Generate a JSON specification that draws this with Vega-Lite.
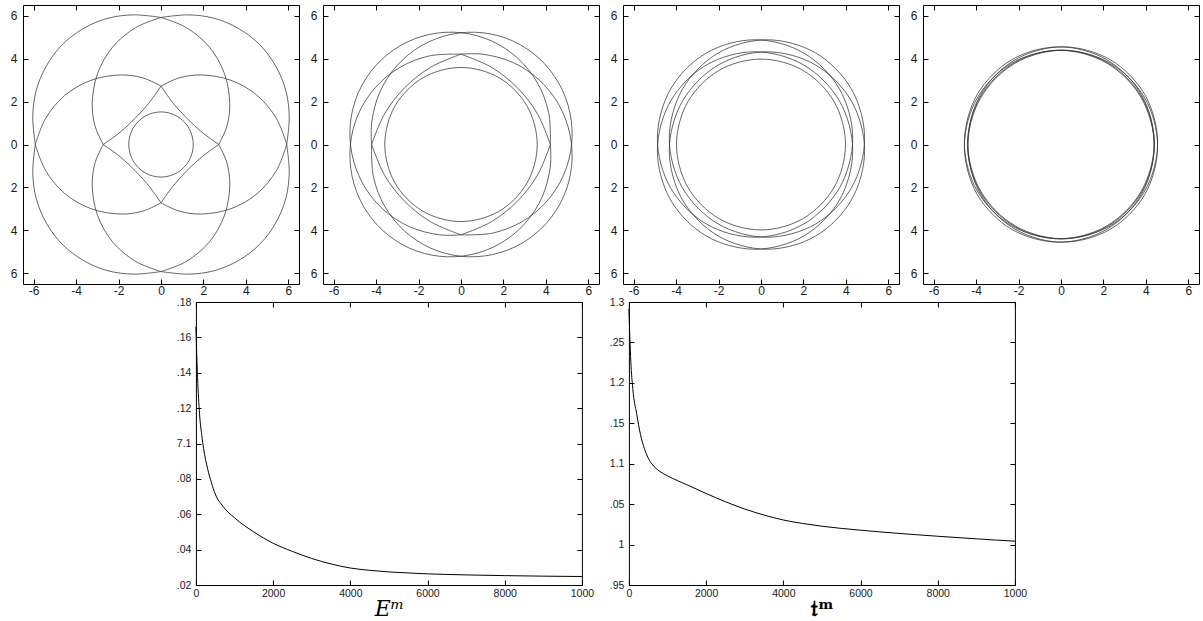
{
"$schema":"https://vega.github.io/schema/vega-lite/v6.json",
"padding":{"left":9,"top":4,"right":0,"bottom":0},
"background":"white",
"datasets":{
"arcs":[
{"p":1,"s":"A1","i":0,"x":0,"y":5.92},{"p":1,"s":"A1","i":1,"x":-1.28,"y":6.04},{"p":1,"s":"A1","i":2,"x":-2.51,"y":5.88},{"p":1,"s":"A1","i":3,"x":-3.66,"y":5.4},{"p":1,"s":"A1","i":4,"x":-4.65,"y":4.65},{"p":1,"s":"A1","i":5,"x":-5.4,"y":3.66},{"p":1,"s":"A1","i":6,"x":-5.88,"y":2.51},{"p":1,"s":"A1","i":7,"x":-6.04,"y":1.28},{"p":1,"s":"A1","i":8,"x":-5.92,"y":0},
{"p":1,"s":"C1","i":0,"x":-5.92,"y":0},{"p":1,"s":"C1","i":1,"x":-5.45,"y":-1.19},{"p":1,"s":"C1","i":2,"x":-4.54,"y":-2.28},{"p":1,"s":"C1","i":3,"x":-3.3,"y":-2.99},{"p":1,"s":"C1","i":4,"x":-1.9,"y":-3.24},{"p":1,"s":"C1","i":5,"x":-0.84,"y":-3.1},{"p":1,"s":"C1","i":6,"x":0,"y":-2.72},
{"p":1,"s":"D1","i":0,"x":0,"y":-2.72},{"p":1,"s":"D1","i":1,"x":0.57,"y":-1.93},{"p":1,"s":"D1","i":2,"x":1.22,"y":-1.22},{"p":1,"s":"D1","i":3,"x":1.93,"y":-0.57},{"p":1,"s":"D1","i":4,"x":2.72,"y":0},
{"p":1,"s":"B1","i":0,"x":2.72,"y":0},{"p":1,"s":"B1","i":1,"x":3.1,"y":0.84},{"p":1,"s":"B1","i":2,"x":3.24,"y":1.9},{"p":1,"s":"B1","i":3,"x":2.99,"y":3.3},{"p":1,"s":"B1","i":4,"x":2.28,"y":4.54},{"p":1,"s":"B1","i":5,"x":1.19,"y":5.45},{"p":1,"s":"B1","i":6,"x":0,"y":5.92},
{"p":1,"s":"A2","i":0,"x":5.92,"y":0},{"p":1,"s":"A2","i":1,"x":6.04,"y":1.28},{"p":1,"s":"A2","i":2,"x":5.88,"y":2.51},{"p":1,"s":"A2","i":3,"x":5.4,"y":3.66},{"p":1,"s":"A2","i":4,"x":4.65,"y":4.65},{"p":1,"s":"A2","i":5,"x":3.66,"y":5.4},{"p":1,"s":"A2","i":6,"x":2.51,"y":5.88},{"p":1,"s":"A2","i":7,"x":1.28,"y":6.04},{"p":1,"s":"A2","i":8,"x":0,"y":5.92},
{"p":1,"s":"C2","i":0,"x":0,"y":5.92},{"p":1,"s":"C2","i":1,"x":-1.19,"y":5.45},{"p":1,"s":"C2","i":2,"x":-2.28,"y":4.54},{"p":1,"s":"C2","i":3,"x":-2.99,"y":3.3},{"p":1,"s":"C2","i":4,"x":-3.24,"y":1.9},{"p":1,"s":"C2","i":5,"x":-3.1,"y":0.84},{"p":1,"s":"C2","i":6,"x":-2.72,"y":0},
{"p":1,"s":"D2","i":0,"x":-2.72,"y":0},{"p":1,"s":"D2","i":1,"x":-1.93,"y":-0.57},{"p":1,"s":"D2","i":2,"x":-1.22,"y":-1.22},{"p":1,"s":"D2","i":3,"x":-0.57,"y":-1.93},{"p":1,"s":"D2","i":4,"x":0,"y":-2.72},
{"p":1,"s":"B2","i":0,"x":0,"y":-2.72},{"p":1,"s":"B2","i":1,"x":0.84,"y":-3.1},{"p":1,"s":"B2","i":2,"x":1.9,"y":-3.24},{"p":1,"s":"B2","i":3,"x":3.3,"y":-2.99},{"p":1,"s":"B2","i":4,"x":4.54,"y":-2.28},{"p":1,"s":"B2","i":5,"x":5.45,"y":-1.19},{"p":1,"s":"B2","i":6,"x":5.92,"y":0},
{"p":1,"s":"A3","i":0,"x":0,"y":-5.92},{"p":1,"s":"A3","i":1,"x":1.28,"y":-6.04},{"p":1,"s":"A3","i":2,"x":2.51,"y":-5.88},{"p":1,"s":"A3","i":3,"x":3.66,"y":-5.4},{"p":1,"s":"A3","i":4,"x":4.65,"y":-4.65},{"p":1,"s":"A3","i":5,"x":5.4,"y":-3.66},{"p":1,"s":"A3","i":6,"x":5.88,"y":-2.51},{"p":1,"s":"A3","i":7,"x":6.04,"y":-1.28},{"p":1,"s":"A3","i":8,"x":5.92,"y":0},
{"p":1,"s":"C3","i":0,"x":5.92,"y":0},{"p":1,"s":"C3","i":1,"x":5.45,"y":1.19},{"p":1,"s":"C3","i":2,"x":4.54,"y":2.28},{"p":1,"s":"C3","i":3,"x":3.3,"y":2.99},{"p":1,"s":"C3","i":4,"x":1.9,"y":3.24},{"p":1,"s":"C3","i":5,"x":0.84,"y":3.1},{"p":1,"s":"C3","i":6,"x":0,"y":2.72},
{"p":1,"s":"D3","i":0,"x":0,"y":2.72},{"p":1,"s":"D3","i":1,"x":-0.57,"y":1.93},{"p":1,"s":"D3","i":2,"x":-1.22,"y":1.22},{"p":1,"s":"D3","i":3,"x":-1.93,"y":0.57},{"p":1,"s":"D3","i":4,"x":-2.72,"y":0},
{"p":1,"s":"B3","i":0,"x":-2.72,"y":0},{"p":1,"s":"B3","i":1,"x":-3.1,"y":-0.84},{"p":1,"s":"B3","i":2,"x":-3.24,"y":-1.9},{"p":1,"s":"B3","i":3,"x":-2.99,"y":-3.3},{"p":1,"s":"B3","i":4,"x":-2.28,"y":-4.54},{"p":1,"s":"B3","i":5,"x":-1.19,"y":-5.45},{"p":1,"s":"B3","i":6,"x":0,"y":-5.92},
{"p":1,"s":"A4","i":0,"x":-5.92,"y":0},{"p":1,"s":"A4","i":1,"x":-6.04,"y":-1.28},{"p":1,"s":"A4","i":2,"x":-5.88,"y":-2.51},{"p":1,"s":"A4","i":3,"x":-5.4,"y":-3.66},{"p":1,"s":"A4","i":4,"x":-4.65,"y":-4.65},{"p":1,"s":"A4","i":5,"x":-3.66,"y":-5.4},{"p":1,"s":"A4","i":6,"x":-2.51,"y":-5.88},{"p":1,"s":"A4","i":7,"x":-1.28,"y":-6.04},{"p":1,"s":"A4","i":8,"x":0,"y":-5.92},
{"p":1,"s":"C4","i":0,"x":0,"y":-5.92},{"p":1,"s":"C4","i":1,"x":1.19,"y":-5.45},{"p":1,"s":"C4","i":2,"x":2.28,"y":-4.54},{"p":1,"s":"C4","i":3,"x":2.99,"y":-3.3},{"p":1,"s":"C4","i":4,"x":3.24,"y":-1.9},{"p":1,"s":"C4","i":5,"x":3.1,"y":-0.84},{"p":1,"s":"C4","i":6,"x":2.72,"y":0},
{"p":1,"s":"D4","i":0,"x":2.72,"y":0},{"p":1,"s":"D4","i":1,"x":1.93,"y":0.57},{"p":1,"s":"D4","i":2,"x":1.22,"y":1.22},{"p":1,"s":"D4","i":3,"x":0.57,"y":1.93},{"p":1,"s":"D4","i":4,"x":0,"y":2.72},
{"p":1,"s":"B4","i":0,"x":0,"y":2.72},{"p":1,"s":"B4","i":1,"x":-0.84,"y":3.1},{"p":1,"s":"B4","i":2,"x":-1.9,"y":3.24},{"p":1,"s":"B4","i":3,"x":-3.3,"y":2.99},{"p":1,"s":"B4","i":4,"x":-4.54,"y":2.28},{"p":1,"s":"B4","i":5,"x":-5.45,"y":1.19},{"p":1,"s":"B4","i":6,"x":-5.92,"y":0},
{"p":2,"s":"G1","i":0,"x":4.21,"y":0},{"p":2,"s":"G1","i":1,"x":4.13,"y":1.48},{"p":2,"s":"G1","i":2,"x":3.6,"y":2.87},{"p":2,"s":"G1","i":3,"x":2.67,"y":4.02},{"p":2,"s":"G1","i":4,"x":1.43,"y":4.83},{"p":2,"s":"G1","i":5,"x":0,"y":5.21},{"p":2,"s":"G1","i":6,"x":-1.48,"y":5.13},{"p":2,"s":"G1","i":7,"x":-2.87,"y":4.6},{"p":2,"s":"G1","i":8,"x":-4.02,"y":3.67},{"p":2,"s":"G1","i":9,"x":-4.83,"y":2.43},{"p":2,"s":"G1","i":10,"x":-5.21,"y":1},{"p":2,"s":"G1","i":11,"x":-5.13,"y":-0.48},{"p":2,"s":"G1","i":12,"x":-4.6,"y":-1.87},{"p":2,"s":"G1","i":13,"x":-3.67,"y":-3.02},{"p":2,"s":"G1","i":14,"x":-2.43,"y":-3.83},{"p":2,"s":"G1","i":15,"x":-1,"y":-4.21},{"p":2,"s":"G1","i":16,"x":0,"y":-4.21},
{"p":2,"s":"H1","i":0,"x":0,"y":-4.21},{"p":2,"s":"H1","i":1,"x":1.43,"y":-3.6},{"p":2,"s":"H1","i":2,"x":2.65,"y":-2.65},{"p":2,"s":"H1","i":3,"x":3.6,"y":-1.43},{"p":2,"s":"H1","i":4,"x":4.21,"y":0},
{"p":2,"s":"G2","i":0,"x":0,"y":-4.21},{"p":2,"s":"G2","i":1,"x":1.48,"y":-4.13},{"p":2,"s":"G2","i":2,"x":2.87,"y":-3.6},{"p":2,"s":"G2","i":3,"x":4.02,"y":-2.67},{"p":2,"s":"G2","i":4,"x":4.83,"y":-1.43},{"p":2,"s":"G2","i":5,"x":5.21,"y":0},{"p":2,"s":"G2","i":6,"x":5.13,"y":1.48},{"p":2,"s":"G2","i":7,"x":4.6,"y":2.87},{"p":2,"s":"G2","i":8,"x":3.67,"y":4.02},{"p":2,"s":"G2","i":9,"x":2.43,"y":4.83},{"p":2,"s":"G2","i":10,"x":1,"y":5.21},{"p":2,"s":"G2","i":11,"x":-0.48,"y":5.13},{"p":2,"s":"G2","i":12,"x":-1.87,"y":4.6},{"p":2,"s":"G2","i":13,"x":-3.02,"y":3.67},{"p":2,"s":"G2","i":14,"x":-3.83,"y":2.43},{"p":2,"s":"G2","i":15,"x":-4.21,"y":1},{"p":2,"s":"G2","i":16,"x":-4.21,"y":0},
{"p":2,"s":"H2","i":0,"x":-4.21,"y":0},{"p":2,"s":"H2","i":1,"x":-3.6,"y":-1.43},{"p":2,"s":"H2","i":2,"x":-2.65,"y":-2.65},{"p":2,"s":"H2","i":3,"x":-1.43,"y":-3.6},{"p":2,"s":"H2","i":4,"x":0,"y":-4.21},
{"p":2,"s":"G3","i":0,"x":-4.21,"y":0},{"p":2,"s":"G3","i":1,"x":-4.13,"y":-1.48},{"p":2,"s":"G3","i":2,"x":-3.6,"y":-2.87},{"p":2,"s":"G3","i":3,"x":-2.67,"y":-4.02},{"p":2,"s":"G3","i":4,"x":-1.43,"y":-4.83},{"p":2,"s":"G3","i":5,"x":0,"y":-5.21},{"p":2,"s":"G3","i":6,"x":1.48,"y":-5.13},{"p":2,"s":"G3","i":7,"x":2.87,"y":-4.6},{"p":2,"s":"G3","i":8,"x":4.02,"y":-3.67},{"p":2,"s":"G3","i":9,"x":4.83,"y":-2.43},{"p":2,"s":"G3","i":10,"x":5.21,"y":-1},{"p":2,"s":"G3","i":11,"x":5.13,"y":0.48},{"p":2,"s":"G3","i":12,"x":4.6,"y":1.87},{"p":2,"s":"G3","i":13,"x":3.67,"y":3.02},{"p":2,"s":"G3","i":14,"x":2.43,"y":3.83},{"p":2,"s":"G3","i":15,"x":1,"y":4.21},{"p":2,"s":"G3","i":16,"x":0,"y":4.21},
{"p":2,"s":"H3","i":0,"x":0,"y":4.21},{"p":2,"s":"H3","i":1,"x":-1.43,"y":3.6},{"p":2,"s":"H3","i":2,"x":-2.65,"y":2.65},{"p":2,"s":"H3","i":3,"x":-3.6,"y":1.43},{"p":2,"s":"H3","i":4,"x":-4.21,"y":0},
{"p":2,"s":"G4","i":0,"x":0,"y":4.21},{"p":2,"s":"G4","i":1,"x":-1.48,"y":4.13},{"p":2,"s":"G4","i":2,"x":-2.87,"y":3.6},{"p":2,"s":"G4","i":3,"x":-4.02,"y":2.67},{"p":2,"s":"G4","i":4,"x":-4.83,"y":1.43},{"p":2,"s":"G4","i":5,"x":-5.21,"y":0},{"p":2,"s":"G4","i":6,"x":-5.13,"y":-1.48},{"p":2,"s":"G4","i":7,"x":-4.6,"y":-2.87},{"p":2,"s":"G4","i":8,"x":-3.67,"y":-4.02},{"p":2,"s":"G4","i":9,"x":-2.43,"y":-4.83},{"p":2,"s":"G4","i":10,"x":-1,"y":-5.21},{"p":2,"s":"G4","i":11,"x":0.48,"y":-5.13},{"p":2,"s":"G4","i":12,"x":1.87,"y":-4.6},{"p":2,"s":"G4","i":13,"x":3.02,"y":-3.67},{"p":2,"s":"G4","i":14,"x":3.83,"y":-2.43},{"p":2,"s":"G4","i":15,"x":4.21,"y":-1},{"p":2,"s":"G4","i":16,"x":4.21,"y":0},
{"p":2,"s":"H4","i":0,"x":4.21,"y":0},{"p":2,"s":"H4","i":1,"x":3.6,"y":1.43},{"p":2,"s":"H4","i":2,"x":2.65,"y":2.65},{"p":2,"s":"H4","i":3,"x":1.43,"y":3.6},{"p":2,"s":"H4","i":4,"x":0,"y":4.21}
],
"circ":[
{"p":1,"g":"S","s":"S1","i":0,"x":1.52,"y":0},{"p":1,"g":"S","s":"S1","i":1,"x":1.316,"y":0.76},{"p":1,"g":"S","s":"S1","i":2,"x":0.76,"y":1.316},{"p":1,"g":"S","s":"S1","i":3,"x":0,"y":1.52},{"p":1,"g":"S","s":"S1","i":4,"x":-0.76,"y":1.316},{"p":1,"g":"S","s":"S1","i":5,"x":-1.316,"y":0.76},{"p":1,"g":"S","s":"S1","i":6,"x":-1.52,"y":0},{"p":1,"g":"S","s":"S1","i":7,"x":-1.316,"y":-0.76},{"p":1,"g":"S","s":"S1","i":8,"x":-0.76,"y":-1.316},{"p":1,"g":"S","s":"S1","i":9,"x":0,"y":-1.52},{"p":1,"g":"S","s":"S1","i":10,"x":0.76,"y":-1.316},{"p":1,"g":"S","s":"S1","i":11,"x":1.316,"y":-0.76},
{"p":2,"g":"S","s":"S2","i":0,"x":3.59,"y":0},{"p":2,"g":"S","s":"S2","i":1,"x":3.109,"y":1.795},{"p":2,"g":"S","s":"S2","i":2,"x":1.795,"y":3.109},{"p":2,"g":"S","s":"S2","i":3,"x":0,"y":3.59},{"p":2,"g":"S","s":"S2","i":4,"x":-1.795,"y":3.109},{"p":2,"g":"S","s":"S2","i":5,"x":-3.109,"y":1.795},{"p":2,"g":"S","s":"S2","i":6,"x":-3.59,"y":0},{"p":2,"g":"S","s":"S2","i":7,"x":-3.109,"y":-1.795},{"p":2,"g":"S","s":"S2","i":8,"x":-1.795,"y":-3.109},{"p":2,"g":"S","s":"S2","i":9,"x":0,"y":-3.59},{"p":2,"g":"S","s":"S2","i":10,"x":1.795,"y":-3.109},{"p":2,"g":"S","s":"S2","i":11,"x":3.109,"y":-1.795},
{"p":3,"g":"L","s":"K1","i":0,"x":4.32,"y":0.28},{"p":3,"g":"L","s":"K1","i":1,"x":3.7,"y":2.58},{"p":3,"g":"L","s":"K1","i":2,"x":2.02,"y":4.26},{"p":3,"g":"L","s":"K1","i":3,"x":-0.28,"y":4.88},{"p":3,"g":"L","s":"K1","i":4,"x":-2.58,"y":4.26},{"p":3,"g":"L","s":"K1","i":5,"x":-4.26,"y":2.58},{"p":3,"g":"L","s":"K1","i":6,"x":-4.88,"y":0.28},{"p":3,"g":"L","s":"K1","i":7,"x":-4.26,"y":-2.02},{"p":3,"g":"L","s":"K1","i":8,"x":-2.58,"y":-3.7},{"p":3,"g":"L","s":"K1","i":9,"x":-0.28,"y":-4.32},{"p":3,"g":"L","s":"K1","i":10,"x":2.02,"y":-3.7},{"p":3,"g":"L","s":"K1","i":11,"x":3.7,"y":-2.02},
{"p":3,"g":"L","s":"K2","i":0,"x":4.88,"y":0.28},{"p":3,"g":"L","s":"K2","i":1,"x":4.26,"y":2.58},{"p":3,"g":"L","s":"K2","i":2,"x":2.58,"y":4.26},{"p":3,"g":"L","s":"K2","i":3,"x":0.28,"y":4.88},{"p":3,"g":"L","s":"K2","i":4,"x":-2.02,"y":4.26},{"p":3,"g":"L","s":"K2","i":5,"x":-3.7,"y":2.58},{"p":3,"g":"L","s":"K2","i":6,"x":-4.32,"y":0.28},{"p":3,"g":"L","s":"K2","i":7,"x":-3.7,"y":-2.02},{"p":3,"g":"L","s":"K2","i":8,"x":-2.02,"y":-3.7},{"p":3,"g":"L","s":"K2","i":9,"x":0.28,"y":-4.32},{"p":3,"g":"L","s":"K2","i":10,"x":2.58,"y":-3.7},{"p":3,"g":"L","s":"K2","i":11,"x":4.26,"y":-2.02},
{"p":3,"g":"L","s":"K3","i":0,"x":4.88,"y":-0.28},{"p":3,"g":"L","s":"K3","i":1,"x":4.26,"y":2.02},{"p":3,"g":"L","s":"K3","i":2,"x":2.58,"y":3.7},{"p":3,"g":"L","s":"K3","i":3,"x":0.28,"y":4.32},{"p":3,"g":"L","s":"K3","i":4,"x":-2.02,"y":3.7},{"p":3,"g":"L","s":"K3","i":5,"x":-3.7,"y":2.02},{"p":3,"g":"L","s":"K3","i":6,"x":-4.32,"y":-0.28},{"p":3,"g":"L","s":"K3","i":7,"x":-3.7,"y":-2.58},{"p":3,"g":"L","s":"K3","i":8,"x":-2.02,"y":-4.26},{"p":3,"g":"L","s":"K3","i":9,"x":0.28,"y":-4.88},{"p":3,"g":"L","s":"K3","i":10,"x":2.58,"y":-4.26},{"p":3,"g":"L","s":"K3","i":11,"x":4.26,"y":-2.58},
{"p":3,"g":"L","s":"K4","i":0,"x":4.32,"y":-0.28},{"p":3,"g":"L","s":"K4","i":1,"x":3.7,"y":2.02},{"p":3,"g":"L","s":"K4","i":2,"x":2.02,"y":3.7},{"p":3,"g":"L","s":"K4","i":3,"x":-0.28,"y":4.32},{"p":3,"g":"L","s":"K4","i":4,"x":-2.58,"y":3.7},{"p":3,"g":"L","s":"K4","i":5,"x":-4.26,"y":2.02},{"p":3,"g":"L","s":"K4","i":6,"x":-4.88,"y":-0.28},{"p":3,"g":"L","s":"K4","i":7,"x":-4.26,"y":-2.58},{"p":3,"g":"L","s":"K4","i":8,"x":-2.58,"y":-4.26},{"p":3,"g":"L","s":"K4","i":9,"x":-0.28,"y":-4.88},{"p":3,"g":"L","s":"K4","i":10,"x":2.02,"y":-4.26},{"p":3,"g":"L","s":"K4","i":11,"x":3.7,"y":-2.58},
{"p":3,"g":"S","s":"S3","i":0,"x":3.98,"y":0},{"p":3,"g":"S","s":"S3","i":1,"x":3.447,"y":1.99},{"p":3,"g":"S","s":"S3","i":2,"x":1.99,"y":3.447},{"p":3,"g":"S","s":"S3","i":3,"x":0,"y":3.98},{"p":3,"g":"S","s":"S3","i":4,"x":-1.99,"y":3.447},{"p":3,"g":"S","s":"S3","i":5,"x":-3.447,"y":1.99},{"p":3,"g":"S","s":"S3","i":6,"x":-3.98,"y":0},{"p":3,"g":"S","s":"S3","i":7,"x":-3.447,"y":-1.99},{"p":3,"g":"S","s":"S3","i":8,"x":-1.99,"y":-3.447},{"p":3,"g":"S","s":"S3","i":9,"x":0,"y":-3.98},{"p":3,"g":"S","s":"S3","i":10,"x":1.99,"y":-3.447},{"p":3,"g":"S","s":"S3","i":11,"x":3.447,"y":-1.99},
{"p":4,"g":"L","s":"M1","i":0,"x":4.39,"y":0.08},{"p":4,"g":"L","s":"M1","i":1,"x":3.79,"y":2.32},{"p":4,"g":"L","s":"M1","i":2,"x":2.16,"y":3.95},{"p":4,"g":"L","s":"M1","i":3,"x":-0.08,"y":4.55},{"p":4,"g":"L","s":"M1","i":4,"x":-2.32,"y":3.95},{"p":4,"g":"L","s":"M1","i":5,"x":-3.95,"y":2.32},{"p":4,"g":"L","s":"M1","i":6,"x":-4.55,"y":0.08},{"p":4,"g":"L","s":"M1","i":7,"x":-3.95,"y":-2.16},{"p":4,"g":"L","s":"M1","i":8,"x":-2.32,"y":-3.79},{"p":4,"g":"L","s":"M1","i":9,"x":-0.08,"y":-4.39},{"p":4,"g":"L","s":"M1","i":10,"x":2.16,"y":-3.79},{"p":4,"g":"L","s":"M1","i":11,"x":3.79,"y":-2.16},
{"p":4,"g":"L","s":"M2","i":0,"x":4.55,"y":0.08},{"p":4,"g":"L","s":"M2","i":1,"x":3.95,"y":2.32},{"p":4,"g":"L","s":"M2","i":2,"x":2.32,"y":3.95},{"p":4,"g":"L","s":"M2","i":3,"x":0.08,"y":4.55},{"p":4,"g":"L","s":"M2","i":4,"x":-2.16,"y":3.95},{"p":4,"g":"L","s":"M2","i":5,"x":-3.79,"y":2.32},{"p":4,"g":"L","s":"M2","i":6,"x":-4.39,"y":0.08},{"p":4,"g":"L","s":"M2","i":7,"x":-3.79,"y":-2.16},{"p":4,"g":"L","s":"M2","i":8,"x":-2.16,"y":-3.79},{"p":4,"g":"L","s":"M2","i":9,"x":0.08,"y":-4.39},{"p":4,"g":"L","s":"M2","i":10,"x":2.32,"y":-3.79},{"p":4,"g":"L","s":"M2","i":11,"x":3.95,"y":-2.16},
{"p":4,"g":"L","s":"M3","i":0,"x":4.55,"y":-0.08},{"p":4,"g":"L","s":"M3","i":1,"x":3.95,"y":2.16},{"p":4,"g":"L","s":"M3","i":2,"x":2.32,"y":3.79},{"p":4,"g":"L","s":"M3","i":3,"x":0.08,"y":4.39},{"p":4,"g":"L","s":"M3","i":4,"x":-2.16,"y":3.79},{"p":4,"g":"L","s":"M3","i":5,"x":-3.79,"y":2.16},{"p":4,"g":"L","s":"M3","i":6,"x":-4.39,"y":-0.08},{"p":4,"g":"L","s":"M3","i":7,"x":-3.79,"y":-2.32},{"p":4,"g":"L","s":"M3","i":8,"x":-2.16,"y":-3.95},{"p":4,"g":"L","s":"M3","i":9,"x":0.08,"y":-4.55},{"p":4,"g":"L","s":"M3","i":10,"x":2.32,"y":-3.95},{"p":4,"g":"L","s":"M3","i":11,"x":3.95,"y":-2.32},
{"p":4,"g":"L","s":"M4","i":0,"x":4.39,"y":-0.08},{"p":4,"g":"L","s":"M4","i":1,"x":3.79,"y":2.16},{"p":4,"g":"L","s":"M4","i":2,"x":2.16,"y":3.79},{"p":4,"g":"L","s":"M4","i":3,"x":-0.08,"y":4.39},{"p":4,"g":"L","s":"M4","i":4,"x":-2.32,"y":3.79},{"p":4,"g":"L","s":"M4","i":5,"x":-3.95,"y":2.16},{"p":4,"g":"L","s":"M4","i":6,"x":-4.55,"y":-0.08},{"p":4,"g":"L","s":"M4","i":7,"x":-3.95,"y":-2.32},{"p":4,"g":"L","s":"M4","i":8,"x":-2.32,"y":-3.95},{"p":4,"g":"L","s":"M4","i":9,"x":-0.08,"y":-4.55},{"p":4,"g":"L","s":"M4","i":10,"x":2.16,"y":-3.95},{"p":4,"g":"L","s":"M4","i":11,"x":3.79,"y":-2.32},
{"p":4,"g":"S","s":"S4","i":0,"x":4.4,"y":0},{"p":4,"g":"S","s":"S4","i":1,"x":3.81,"y":2.2},{"p":4,"g":"S","s":"S4","i":2,"x":2.2,"y":3.81},{"p":4,"g":"S","s":"S4","i":3,"x":0,"y":4.4},{"p":4,"g":"S","s":"S4","i":4,"x":-2.2,"y":3.81},{"p":4,"g":"S","s":"S4","i":5,"x":-3.81,"y":2.2},{"p":4,"g":"S","s":"S4","i":6,"x":-4.4,"y":0},{"p":4,"g":"S","s":"S4","i":7,"x":-3.81,"y":-2.2},{"p":4,"g":"S","s":"S4","i":8,"x":-2.2,"y":-3.81},{"p":4,"g":"S","s":"S4","i":9,"x":0,"y":-4.4},{"p":4,"g":"S","s":"S4","i":10,"x":2.2,"y":-3.81},{"p":4,"g":"S","s":"S4","i":11,"x":3.81,"y":-2.2}
],
"conv":[
{"c":"E","n":0,"v":7.166},{"c":"E","n":25,"v":7.148},{"c":"E","n":50,"v":7.134},{"c":"E","n":100,"v":7.115},{"c":"E","n":150,"v":7.105},{"c":"E","n":200,"v":7.097},{"c":"E","n":300,"v":7.086},{"c":"E","n":400,"v":7.078},{"c":"E","n":500,"v":7.0715},{"c":"E","n":700,"v":7.0645},{"c":"E","n":1000,"v":7.058},{"c":"E","n":1500,"v":7.05},{"c":"E","n":2000,"v":7.0436},{"c":"E","n":2500,"v":7.039},{"c":"E","n":3000,"v":7.035},{"c":"E","n":3500,"v":7.0319},{"c":"E","n":4000,"v":7.0296},{"c":"E","n":4500,"v":7.0283},{"c":"E","n":5000,"v":7.0274},{"c":"E","n":5500,"v":7.0268},{"c":"E","n":6000,"v":7.0263},{"c":"E","n":7000,"v":7.0257},{"c":"E","n":8000,"v":7.0253},{"c":"E","n":9000,"v":7.025},{"c":"E","n":10000,"v":7.0248},
{"c":"r","n":0,"v":1.292},{"c":"r","n":25,"v":1.255},{"c":"r","n":50,"v":1.226},{"c":"r","n":100,"v":1.193},{"c":"r","n":200,"v":1.162},{"c":"r","n":300,"v":1.136},{"c":"r","n":400,"v":1.119},{"c":"r","n":500,"v":1.107},{"c":"r","n":600,"v":1.0995},{"c":"r","n":800,"v":1.0905},{"c":"r","n":1000,"v":1.085},{"c":"r","n":1500,"v":1.074},{"c":"r","n":2000,"v":1.0632},{"c":"r","n":2500,"v":1.053},{"c":"r","n":3000,"v":1.044},{"c":"r","n":3500,"v":1.0365},{"c":"r","n":4000,"v":1.0304},{"c":"r","n":4500,"v":1.0261},{"c":"r","n":5000,"v":1.0227},{"c":"r","n":5500,"v":1.02},{"c":"r","n":6000,"v":1.0178},{"c":"r","n":6500,"v":1.0157},{"c":"r","n":7000,"v":1.0138},{"c":"r","n":7500,"v":1.012},{"c":"r","n":8000,"v":1.0103},{"c":"r","n":8500,"v":1.0087},{"c":"r","n":9000,"v":1.0071},{"c":"r","n":9500,"v":1.0056},{"c":"r","n":10000,"v":1.0042}
]
},
"vconcat":[
{"hconcat":[
{"width":276,"height":279,"layer":[
{"data":{"name":"arcs"},"transform":[{"filter":"datum.p == 1"}],"mark":{"type":"line","interpolate":"catmull-rom","stroke":"#333","strokeWidth":0.75},
"encoding":{"x":{"field":"x","type":"quantitative","scale":{"domain":[-6.5,6.5],"nice":false,"zero":false},"axis":{"orient":"bottom","values":[-6,-4,-2,0,2,4,6],"labelExpr":"(datum.value < 0 ? '-' : '') + format(abs(datum.value), 'd')","labelFontSize":12,"labelPadding":6,"labelFlush":false,"title":null}},
"y":{"field":"y","type":"quantitative","scale":{"domain":[-6.5,6.5],"nice":false,"zero":false},"axis":{"orient":"left","values":[-6,-4,-2,0,2,4,6],"labelExpr":"format(abs(datum.value), 'd')","labelFontSize":12,"labelPadding":11,"title":null}},
"detail":{"field":"s"},"order":{"field":"i","type":"quantitative"}}},
{"data":{"name":"circ"},"transform":[{"filter":"datum.p == 1"}],"mark":{"type":"line","interpolate":"cardinal-closed","stroke":"#333","strokeWidth":0.75},
"encoding":{"x":{"field":"x","type":"quantitative","scale":{"domain":[-6.5,6.5],"nice":false,"zero":false},"axis":{"orient":"top","values":[-6,-4,-2,0,2,4,6],"labels":false,"title":null}},
"y":{"field":"y","type":"quantitative","scale":{"domain":[-6.5,6.5],"nice":false,"zero":false},"axis":{"orient":"right","values":[-6,-4,-2,0,2,4,6],"labels":false,"title":null}},
"detail":{"field":"s"},"order":{"field":"i","type":"quantitative"}}}
],"resolve":{"axis":{"x":"independent","y":"independent"}}},
{"width":276,"height":279,"layer":[
{"data":{"name":"arcs"},"transform":[{"filter":"datum.p == 2"}],"mark":{"type":"line","interpolate":"catmull-rom","stroke":"#333","strokeWidth":0.75},
"encoding":{"x":{"field":"x","type":"quantitative","scale":{"domain":[-6.5,6.5],"nice":false,"zero":false},"axis":{"orient":"bottom","values":[-6,-4,-2,0,2,4,6],"labelExpr":"(datum.value < 0 ? '-' : '') + format(abs(datum.value), 'd')","labelFontSize":12,"labelPadding":6,"labelFlush":false,"title":null}},
"y":{"field":"y","type":"quantitative","scale":{"domain":[-6.5,6.5],"nice":false,"zero":false},"axis":{"orient":"left","values":[-6,-4,-2,0,2,4,6],"labelExpr":"format(abs(datum.value), 'd')","labelFontSize":12,"labelPadding":11,"title":null}},
"detail":{"field":"s"},"order":{"field":"i","type":"quantitative"}}},
{"data":{"name":"circ"},"transform":[{"filter":"datum.p == 2"}],"mark":{"type":"line","interpolate":"cardinal-closed","stroke":"#333","strokeWidth":0.75},
"encoding":{"x":{"field":"x","type":"quantitative","scale":{"domain":[-6.5,6.5],"nice":false,"zero":false},"axis":{"orient":"top","values":[-6,-4,-2,0,2,4,6],"labels":false,"title":null}},
"y":{"field":"y","type":"quantitative","scale":{"domain":[-6.5,6.5],"nice":false,"zero":false},"axis":{"orient":"right","values":[-6,-4,-2,0,2,4,6],"labels":false,"title":null}},
"detail":{"field":"s"},"order":{"field":"i","type":"quantitative"}}}
],"resolve":{"axis":{"x":"independent","y":"independent"}}},
{"width":276,"height":279,"layer":[
{"data":{"name":"circ"},"transform":[{"filter":"datum.p == 3 && datum.g == 'L'"}],"mark":{"type":"line","interpolate":"cardinal-closed","stroke":"#333","strokeWidth":0.75},
"encoding":{"x":{"field":"x","type":"quantitative","scale":{"domain":[-6.5,6.5],"nice":false,"zero":false},"axis":{"orient":"bottom","values":[-6,-4,-2,0,2,4,6],"labelExpr":"(datum.value < 0 ? '-' : '') + format(abs(datum.value), 'd')","labelFontSize":12,"labelPadding":6,"labelFlush":false,"title":null}},
"y":{"field":"y","type":"quantitative","scale":{"domain":[-6.5,6.5],"nice":false,"zero":false},"axis":{"orient":"left","values":[-6,-4,-2,0,2,4,6],"labelExpr":"format(abs(datum.value), 'd')","labelFontSize":12,"labelPadding":11,"title":null}},
"detail":{"field":"s"},"order":{"field":"i","type":"quantitative"}}},
{"data":{"name":"circ"},"transform":[{"filter":"datum.p == 3 && datum.g == 'S'"}],"mark":{"type":"line","interpolate":"cardinal-closed","stroke":"#333","strokeWidth":0.75},
"encoding":{"x":{"field":"x","type":"quantitative","scale":{"domain":[-6.5,6.5],"nice":false,"zero":false},"axis":{"orient":"top","values":[-6,-4,-2,0,2,4,6],"labels":false,"title":null}},
"y":{"field":"y","type":"quantitative","scale":{"domain":[-6.5,6.5],"nice":false,"zero":false},"axis":{"orient":"right","values":[-6,-4,-2,0,2,4,6],"labels":false,"title":null}},
"detail":{"field":"s"},"order":{"field":"i","type":"quantitative"}}}
],"resolve":{"axis":{"x":"independent","y":"independent"}}},
{"width":276,"height":279,"layer":[
{"data":{"name":"circ"},"transform":[{"filter":"datum.p == 4 && datum.g == 'L'"}],"mark":{"type":"line","interpolate":"cardinal-closed","stroke":"#333","strokeWidth":0.75},
"encoding":{"x":{"field":"x","type":"quantitative","scale":{"domain":[-6.5,6.5],"nice":false,"zero":false},"axis":{"orient":"bottom","values":[-6,-4,-2,0,2,4,6],"labelExpr":"(datum.value < 0 ? '-' : '') + format(abs(datum.value), 'd')","labelFontSize":12,"labelPadding":6,"labelFlush":false,"title":null}},
"y":{"field":"y","type":"quantitative","scale":{"domain":[-6.5,6.5],"nice":false,"zero":false},"axis":{"orient":"left","values":[-6,-4,-2,0,2,4,6],"labelExpr":"format(abs(datum.value), 'd')","labelFontSize":12,"labelPadding":11,"title":null}},
"detail":{"field":"s"},"order":{"field":"i","type":"quantitative"}}},
{"data":{"name":"circ"},"transform":[{"filter":"datum.p == 4 && datum.g == 'S'"}],"mark":{"type":"line","interpolate":"cardinal-closed","stroke":"#333","strokeWidth":0.75},
"encoding":{"x":{"field":"x","type":"quantitative","scale":{"domain":[-6.5,6.5],"nice":false,"zero":false},"axis":{"orient":"top","values":[-6,-4,-2,0,2,4,6],"labels":false,"title":null}},
"y":{"field":"y","type":"quantitative","scale":{"domain":[-6.5,6.5],"nice":false,"zero":false},"axis":{"orient":"right","values":[-6,-4,-2,0,2,4,6],"labels":false,"title":null}},
"detail":{"field":"s"},"order":{"field":"i","type":"quantitative"}}}
],"resolve":{"axis":{"x":"independent","y":"independent"}}}
],"spacing":24,"bounds":"flush"},
{"hconcat":[
{"width":386,"height":283,"layer":[
{"data":{"name":"conv"},"transform":[{"filter":"datum.c == 'E'"}],"mark":{"type":"line","interpolate":"monotone","stroke":"#000","strokeWidth":1},
"encoding":{"x":{"field":"n","type":"quantitative","scale":{"domain":[0,10000],"nice":false},"axis":{"orient":"bottom","values":[0,2000,4000,6000,8000,10000],"labelExpr":"datum.value >= 10000 ? '1000' : format(datum.value, 'd')","labelFontSize":10.5,"labelPadding":8.5,"labelFlush":false,"title":"Eᵐ","titleFont":"DejaVu Serif","titleFontStyle":"italic","titleFontWeight":"normal","titleFontSize":22,"titlePadding":-1}},
"y":{"field":"v","type":"quantitative","scale":{"domain":[7.02,7.18],"nice":false,"zero":false},"axis":{"orient":"left","values":[7.02,7.04,7.06,7.08,7.1,7.12,7.14,7.16,7.18],"labelExpr":"length(format(datum.value,'~g')) > 3 ? substring(format(datum.value,'~g'),1) : format(datum.value,'~g')","labelFontSize":10.5,"labelPadding":10,"title":null}}}},
{"data":{"name":"conv"},"transform":[{"filter":"datum.c == 'E'"}],"mark":{"type":"line","strokeOpacity":0},
"encoding":{"x":{"field":"n","type":"quantitative","scale":{"domain":[0,10000],"nice":false},"axis":{"orient":"top","values":[0,2000,4000,6000,8000,10000],"labels":false,"title":null}},
"y":{"field":"v","type":"quantitative","scale":{"domain":[7.02,7.18],"nice":false,"zero":false},"axis":{"orient":"right","values":[7.02,7.04,7.06,7.08,7.1,7.12,7.14,7.16,7.18],"labels":false,"title":null}}}}
],"resolve":{"axis":{"x":"independent","y":"independent"}}},
{"width":386,"height":283,"layer":[
{"data":{"name":"conv"},"transform":[{"filter":"datum.c == 'r'"}],"mark":{"type":"line","interpolate":"monotone","stroke":"#000","strokeWidth":1},
"encoding":{"x":{"field":"n","type":"quantitative","scale":{"domain":[0,10000],"nice":false},"axis":{"orient":"bottom","values":[0,2000,4000,6000,8000,10000],"labelExpr":"datum.value >= 10000 ? '1000' : format(datum.value, 'd')","labelFontSize":10.5,"labelPadding":8.5,"labelFlush":false,"title":"𝔱ᵐ","titleFont":"DejaVu Serif","titleFontWeight":"bold","titleFontSize":22,"titlePadding":-1}},
"y":{"field":"v","type":"quantitative","scale":{"domain":[0.95,1.3],"nice":false,"zero":false},"axis":{"orient":"left","values":[0.95,1,1.05,1.1,1.15,1.2,1.25,1.3],"labelExpr":"length(format(datum.value,'~g')) > 3 ? substring(format(datum.value,'~g'),1) : format(datum.value,'~g')","labelFontSize":10.5,"labelPadding":10,"title":null}}}},
{"data":{"name":"conv"},"transform":[{"filter":"datum.c == 'r'"}],"mark":{"type":"line","strokeOpacity":0},
"encoding":{"x":{"field":"n","type":"quantitative","scale":{"domain":[0,10000],"nice":false},"axis":{"orient":"top","values":[0,2000,4000,6000,8000,10000],"labels":false,"title":null}},
"y":{"field":"v","type":"quantitative","scale":{"domain":[0.95,1.3],"nice":false,"zero":false},"axis":{"orient":"right","values":[0.95,1,1.05,1.1,1.15,1.2,1.25,1.3],"labels":false,"title":null}}}}
],"resolve":{"axis":{"x":"independent","y":"independent"}}}
],"spacing":47,"bounds":"flush"}
],
"spacing":-1,"bounds":"full","center":true,
"config":{
"view":{"stroke":"#000","strokeWidth":1},
"axis":{"grid":false,"domain":false,"tickColor":"#000","tickSize":-5,"tickWidth":1,"labelFont":"Liberation Sans","labelColor":"#1a1a1a","titleColor":"#000"}
}
}
